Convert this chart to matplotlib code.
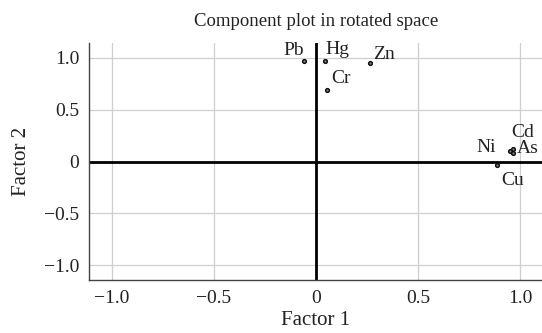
import matplotlib
matplotlib.use("Agg")
import matplotlib.pyplot as plt

# rotated component loadings
elements = ["Pb", "Hg", "Zn", "Cr", "Cd", "Ni", "As", "Cu"]
factor1 = [-0.06, 0.045, 0.265, 0.053, 0.965, 0.95, 0.965, 0.887]
factor2 = [0.97, 0.97, 0.95, 0.69, 0.12, 0.10, 0.08, -0.03]
label_offsets = {
    "Pb": (-15, 4), "Hg": (0, 5), "Zn": (2, 3), "Cr": (3, 5),
    "Cd": (-1, 9), "Ni": (-24, -1), "As": (3, 0), "Cu": (3, -15),
}

ticks = [-1.0, -0.5, 0, 0.5, 1.0]
tick_labels = ["\u22121.0", "\u22120.5", "0", "0.5", "1.0"]

plt.rcParams["font.family"] = ["Liberation Serif", "DejaVu Serif"]
fs = 14

fig = plt.figure(figsize=(5.42, 3.33), dpi=100)
ax = fig.add_axes([0.164, 0.159, 0.838, 0.712])

ax.set_xlim(-1.113, 1.113)
ax.set_ylim(-1.14, 1.14)
ax.set_xticks(ticks)
ax.set_xticklabels(tick_labels)
ax.set_yticks(ticks)
ax.set_yticklabels(tick_labels)
ax.tick_params(length=0, pad=7, labelsize=fs, labelcolor="#222222")
ax.grid(True, color="#cfcfcf", lw=0.9)
ax.set_axisbelow(True)

for s in ["top", "right"]:
    ax.spines[s].set_visible(False)
for s in ["left", "bottom"]:
    ax.spines[s].set_color("#444444")
    ax.spines[s].set_linewidth(1.0)

ax.axhline(0, color="black", lw=2, zorder=2)
ax.axvline(0, color="black", lw=2, zorder=2)

ax.scatter(factor1, factor2, s=7, facecolor="#888888", edgecolor="#111111",
           linewidth=1.1, zorder=3)
for name, x, y in zip(elements, factor1, factor2):
    dx, dy = label_offsets[name]
    ax.annotate(name, (x, y), xytext=(dx, dy), textcoords="offset points",
                fontsize=fs, color="#222222", zorder=4)

ax.set_title("Component plot in rotated space", fontsize=13.5, pad=12,
             color="#222222")
ax.set_xlabel("Factor 1", fontsize=15, labelpad=3, color="#222222")
ax.set_ylabel("Factor 2", fontsize=15, labelpad=9, color="#222222")

fig.savefig("out.png", dpi=100)
